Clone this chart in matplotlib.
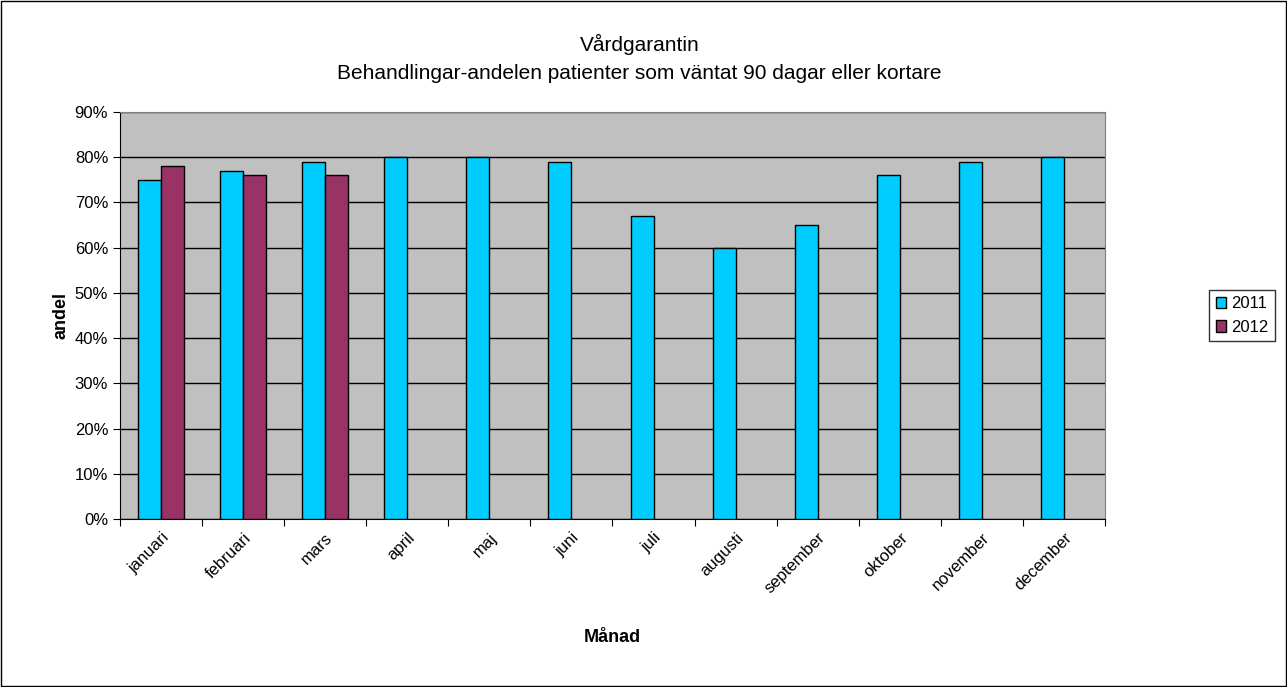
import matplotlib
matplotlib.use("Agg")
import matplotlib.pyplot as plt
import numpy as np
from matplotlib.ticker import FuncFormatter

months = ["januari","februari","mars","april","maj","juni","juli","augusti","september","oktober","november","december"]
v2011 = [75,77,79,80,80,79,67,60,65,76,79,80]
v2012 = [78,76,76]

fig = plt.figure(figsize=(12.87,6.87), dpi=100)
fig.patch.set_facecolor("white")
fig.patches.append(plt.Rectangle((0.001,0.001),0.998,0.997,transform=fig.transFigure,fill=False,ec="black",lw=1))
ax = fig.add_axes([0.0932,0.2445,0.7654,0.5925])
ax.set_facecolor("#c0c0c0")
x = np.arange(len(months))
w = 0.28
ax.bar(x[:len(v2011)]-w/2, v2011, w, color="#00ccff", ec="black", lw=1, label="2011", zorder=3)
ax.bar(x[:len(v2012)]+w/2, v2012, w, color="#993366", ec="black", lw=1, label="2012", zorder=3)
ax.set_xlim(-0.5, 11.5)
ax.set_ylim(0, 90)
ax.set_yticks(range(0,91,10))
ax.yaxis.set_major_formatter(FuncFormatter(lambda v,p: f"{int(v)}%"))
ax.grid(axis="y", color="black", lw=1, zorder=0)
ax.set_xticks(np.arange(-0.5,12,1), minor=False)
ax.set_xticklabels([])
ax.set_xticks(x, minor=True)
ax.set_xticklabels(months, minor=True, rotation=45, ha="right", rotation_mode="anchor", fontsize=12, fontname="Liberation Sans")
ax.tick_params(axis="x", which="minor", length=0, pad=8)
ax.tick_params(axis="x", which="major", length=5, direction="out")
ax.tick_params(axis="y", labelsize=12, length=5)
for l in ax.get_yticklabels(): l.set_fontname("Liberation Sans")
for s in ax.spines.values(): s.set_color("#808080")
ax.spines["left"].set_color("black"); ax.spines["bottom"].set_color("black")
ax.set_ylabel("andel", fontsize=13, fontweight="bold", fontname="Liberation Sans")
ax.set_xlabel("Månad", fontsize=13, fontweight="bold", fontname="Liberation Sans", labelpad=2)
ax.xaxis.set_label_coords(0.5, -0.27)
fig.text(0.497, 0.935, "Vårdgarantin", ha="center", va="center", fontsize=15, fontname="Liberation Sans")
fig.text(0.497, 0.893, "Behandlingar-andelen patienter som väntat 90 dagar eller kortare", ha="center", va="center", fontsize=15, fontname="Liberation Sans")
leg = ax.legend(loc="center left", bbox_to_anchor=(0.9325/0.7654*0.7654/0.7654 if False else (1201/1287-0.0932)/0.7654, 0.5), frameon=True, fancybox=False, edgecolor="black", prop={"family":"Liberation Sans","size":12}, handlelength=0.6, handletextpad=0.3, borderpad=0.4)
leg.get_frame().set_linewidth(1)
fig.savefig("out.png", dpi=100)
